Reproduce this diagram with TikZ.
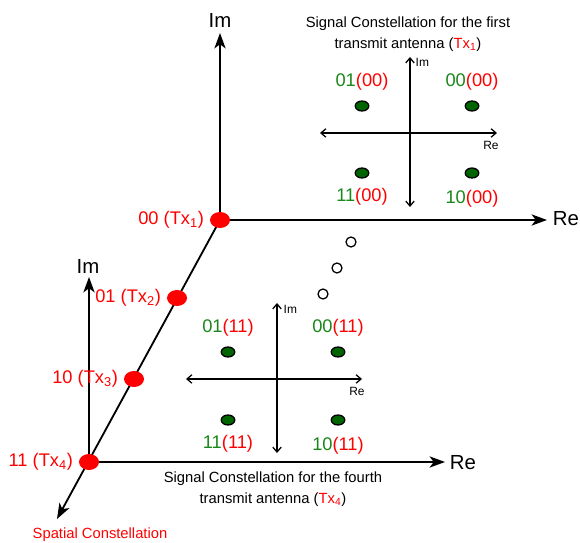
\documentclass[tikz,border=0pt]{standalone}
\usepackage{fontspec}
\setmainfont{Liberation Sans}
\usetikzlibrary{arrows.meta,shapes.geometric,positioning}
\definecolor{symgreen}{RGB}{25,135,25}
\definecolor{dotgreen}{RGB}{0,100,0}

\begin{document}
\begin{tikzpicture}[x=0.025cm, y=-0.025cm,
    axis/.style={-{Stealth[length=11pt, width=8pt, inset=3pt]}, line width=1.3pt},
    inax/.style={{Straight Barb[length=3.5pt, width=6pt]}-{Straight Barb[length=3.5pt, width=6pt]}, line width=0.9pt},
    reddot/.style={ellipse, fill=red, minimum width=0.5cm, minimum height=0.4cm, inner sep=0pt},
    gdot/.style={ellipse, draw=black, fill=dotgreen, line width=0.9pt, minimum width=0.34cm, minimum height=0.25cm, inner sep=0pt},
    hdot/.style={circle, draw=black, line width=0.9pt, minimum size=0.25cm, inner sep=0pt},
    bigtxt/.style={font=\fontsize{14.5}{14.5}\selectfont, inner sep=1pt},
    ptlbl/.style={text=red, font=\fontsize{13}{13}\selectfont, inner sep=1pt},
    symlbl/.style={text=red, font=\fontsize{13}{13}\selectfont, inner sep=1pt},
    axlbl/.style={font=\fontsize{8.5}{9}\selectfont, inner sep=1pt},
    ttl/.style={font=\fontsize{10.5}{14.5}\selectfont, align=center, inner sep=1pt}
]
\useasboundingbox (0,0) rectangle (580,543);

% origins of the two sets of axes
\coordinate (o1) at (220,220);
\coordinate (o4) at (89,462);
\coordinate (imtop) at (220,33);
\coordinate (retop) at (547,220);
\coordinate (imbot) at (89,277);
\coordinate (rebot) at (445,462);
\coordinate (spat) at (57,519);

\draw[axis] (o1) -- (imtop);
\draw[axis] (o1) -- (retop);
\draw[axis] (o4) -- (imbot);
\draw[axis] (o4) -- (rebot);
\draw[axis] (o1) -- (spat);

\node[bigtxt] (lim1) at (220,20) {Im};
\node[bigtxt] (lre1) at (566,219) {Re};
\node[bigtxt] (lim4) at (88,266) {Im};
\node[bigtxt] (lre4) at (463,463) {Re};
\node[text=red, font=\fontsize{10.5}{12}\selectfont] (lspat) at (100,535) {Spatial Constellation};

% spatial points
\node[reddot] (t1) at (o1) {};
\node[reddot] (t2) at (177,298) {};
\node[reddot] (t3) at (134,379) {};
\node[reddot] (t4) at (o4) {};
\node[ptlbl, left=0.1cm of t1] {00 (Tx\textsubscript{1})};
\node[ptlbl, left=0.1cm of t2] {01 (Tx\textsubscript{2})};
\node[ptlbl, left=0.1cm of t3] {10 (Tx\textsubscript{3})};
\node[ptlbl, left=0.1cm of t4] {11 (Tx\textsubscript{4})};

% constellation of the first antenna
\coordinate (a1n) at (410,57);
\coordinate (a1s) at (410,207);
\coordinate (a1w) at (320,133);
\coordinate (a1e) at (497,133);
\draw[inax] (a1s) -- (a1n);
\draw[inax] (a1w) -- (a1e);
\node[axlbl, anchor=west] (a1im) at (414,62) {Im};
\node[axlbl] (a1re) at (491,145) {Re};
\node[gdot] (s01a) at (362,106) {};
\node[gdot] (s00a) at (472,106) {};
\node[gdot] (s11a) at (362,173) {};
\node[gdot] (s10a) at (472,173) {};
\node[symlbl, above=0.22cm of s01a] {\textcolor{symgreen}{01}(00)};
\node[symlbl, above=0.22cm of s00a] {\textcolor{symgreen}{00}(00)};
\node[symlbl, below=0.2cm of s11a] {\textcolor{symgreen}{11}(00)};
\node[symlbl, below=0.25cm of s10a] {\textcolor{symgreen}{10}(00)};
\node[ttl] (ttl1) at (408,34) {Signal Constellation for the first\\transmit antenna (\textcolor{red}{Tx\textsubscript{1}})};

% constellation of the fourth antenna
\coordinate (a4n) at (277,303);
\coordinate (a4s) at (277,453);
\coordinate (a4w) at (186,379);
\coordinate (a4e) at (362,379);
\draw[inax] (a4s) -- (a4n);
\draw[inax] (a4w) -- (a4e);
\node[axlbl, anchor=west] (a4im) at (282,309) {Im};
\node[axlbl] (a4re) at (357,391) {Re};
\node[gdot] (s01d) at (228,352) {};
\node[gdot] (s00d) at (338,352) {};
\node[gdot] (s11d) at (228,420) {};
\node[gdot] (s10d) at (338,420) {};
\node[symlbl, above=0.22cm of s01d] {\textcolor{symgreen}{01}(11)};
\node[symlbl, above=0.22cm of s00d] {\textcolor{symgreen}{00}(11)};
\node[symlbl, below=0.2cm of s11d] {\textcolor{symgreen}{11}(11)};
\node[symlbl, below=0.25cm of s10d] {\textcolor{symgreen}{10}(11)};
\node[ttl] (ttl4) at (273,489) {Signal Constellation for the fourth\\transmit antenna (\textcolor{red}{Tx\textsubscript{4}})};

% the other antennas
\node[hdot] (h1) at (351,242) {};
\node[hdot] (h2) at (337,268) {};
\node[hdot] (h3) at (323,294) {};
\end{tikzpicture}
\end{document}
